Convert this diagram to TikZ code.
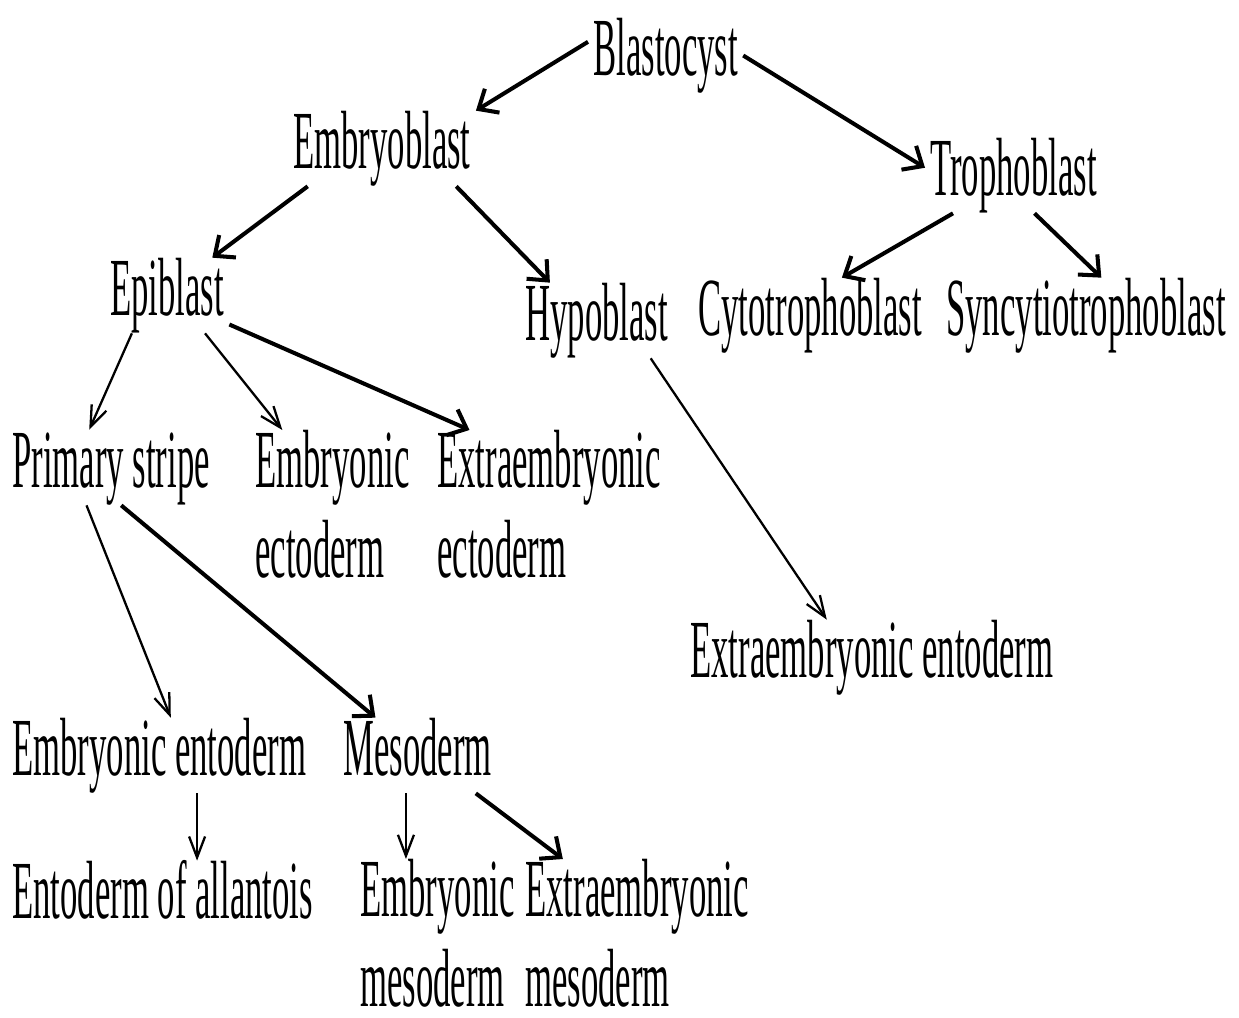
\documentclass[tikz,border=0pt]{standalone}
\usepackage{fontspec}
\setmainfont[FakeStretch=0.42]{Liberation Serif}
\usetikzlibrary{arrows.meta}

\begin{document}
\begin{tikzpicture}[x=0.02cm,y=-0.02cm,
  word/.style={anchor=base west,inner xsep=0.1cm,inner ysep=0pt,
    text height=1.14cm,text depth=0.36cm,font=\fontsize{47}{51}\selectfont},
  pair/.style={anchor=north west,align=left,inner xsep=0.1cm,inner ysep=0pt,
    font=\fontsize{47}{51}\selectfont},
  bold/.style={line width=2.3pt,-{Straight Barb[length=0.32cm,width=0.56cm]}},
  fine/.style={line width=1.3pt,-{Straight Barb[length=0.42cm,width=0.32cm]}}]
\useasboundingbox (0,0) rectangle (1239,1017);

% first levels
\node[word] (blast) at (588,75) {Blastocyst};
\node[word] (embryo) at (288,168) {Embryoblast};
\node[word] (tropho) at (925,195) {Trophoblast};
\node[word] (epi) at (105,315) {Epiblast};
\node[word] (hypo) at (520,340) {Hypoblast};
\node[word] (cyto) at (693,335) {Cytotrophoblast};
\node[word] (syncy) at (941,335) {Syncytiotrophoblast};

% germ layers
\node[word] (primary) at (7,487) {Primary stripe};
\node[pair] (embecto) at (250,430) {Embryonic\\ectoderm};
\node[pair] (extecto) at (432,430) {Extraembryonic\\ectoderm};
\node[word] (extento) at (685,677) {Extraembryonic entoderm};
\node[word] (embento) at (7,775) {Embryonic entoderm};
\node[word] (meso) at (338,775) {Mesoderm};
\node[word] (allan) at (7,918) {Entoderm of allantois};
\node[pair] (embmeso) at (355,859) {Embryonic\\mesoderm};
\node[pair] (extmeso) at (520,859) {Extraembryonic\\mesoderm};

\draw[bold] (blast.170) -- (embryo.north east);
\draw[bold] (blast.east) -- (tropho.175);
\draw[bold] (embryo.207) -- (epi.40);
\draw[bold] (embryo.-27) -- (hypo.141);
\draw[bold] (tropho.212) -- (cyto.50);
\draw[bold] (tropho.-61) -- (syncy.68);

\draw[fine] (epi.227) -- (primary.120);
\draw[fine] (epi.-45) -- (embecto.124);
\draw[bold] (epi.-25) -- (extecto.137);
\draw[fine] (hypo.-35) -- (extento.140);

\draw[fine] (primary.237) -- (embento.73);
\draw[bold] (primary.-75) -- (meso.138);
\draw[fine] (embento.-45) -- (embento.-45 |- allan.north);
\draw[fine] (meso.253) -- (meso.253 |- embmeso.north);
\draw[bold] (meso.-33) -- (extmeso.135);
\end{tikzpicture}
\end{document}
